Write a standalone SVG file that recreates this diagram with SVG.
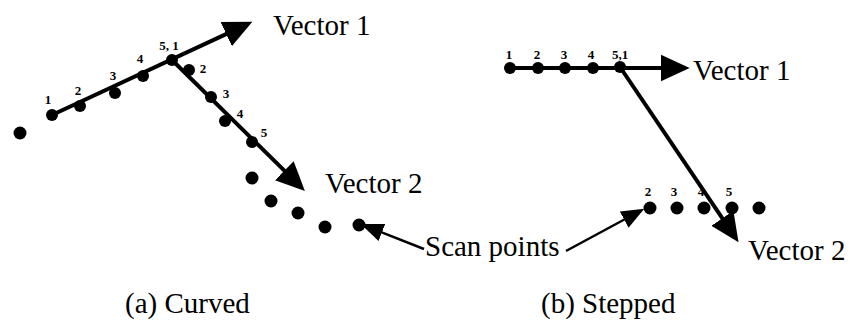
<svg xmlns="http://www.w3.org/2000/svg" width="854" height="323" viewBox="0 0 854 323">
  <style>
    .vec { stroke: #000; stroke-width: 4; fill: none; marker-end: url(#bigHead); }
    .ptr { stroke: #000; stroke-width: 2.5; fill: none; marker-end: url(#smallHead); }
    .dot { fill: #000; }
    .num { font-family: "Liberation Serif", "Times New Roman", serif; font-size: 13px; font-weight: bold; text-anchor: middle; fill: #000; }
    .lbl { font-family: "Liberation Serif", "Times New Roman", serif; font-size: 29px; fill: #000; }
    .cap { font-family: "Liberation Serif", "Times New Roman", serif; font-size: 29px; fill: #000; }
  </style>
  <defs>
    <marker id="bigHead" markerUnits="userSpaceOnUse" markerWidth="30" markerHeight="30" viewBox="0 -13 27 26" refX="2" refY="0" orient="auto">
      <path d="M0,-12 L26,0 L0,12 Z" fill="#000"/>
    </marker>
    <marker id="smallHead" markerUnits="userSpaceOnUse" markerWidth="24" markerHeight="24" viewBox="0 -9 21 18" refX="2" refY="0" orient="auto">
      <path d="M0,-8 L20,0 L0,8 Z" fill="#000"/>
    </marker>
  </defs>

  <rect width="854" height="323" fill="#fff"/>

  <!-- connectors: vectors and scan-point pointers -->
  <g id="connectors">
    <line class="vec" x1="52" y1="115" x2="228.2" y2="33.1"/>
    <line class="vec" x1="172" y1="60" x2="285.9" y2="172.2"/>
    <line class="vec" x1="510" y1="68" x2="663" y2="68"/>
    <line class="vec" x1="620" y1="67" x2="723.6" y2="220.1"/>
    <line class="ptr" x1="424" y1="249" x2="379.8" y2="231.6"/>
    <line class="ptr" x1="566" y1="251" x2="626.2" y2="218.5"/>
  </g>

  <!-- (a) curved scan -->
  <g id="curved-points">
    <circle class="dot" cx="20" cy="133" r="6.5"/>
    <circle class="dot" cx="52" cy="115" r="6"/>
    <circle class="dot" cx="80" cy="106" r="6"/>
    <circle class="dot" cx="115" cy="93" r="6"/>
    <circle class="dot" cx="143" cy="76" r="6"/>
    <circle class="dot" cx="172" cy="60" r="6"/>
    <circle class="dot" cx="189" cy="70" r="6"/>
    <circle class="dot" cx="211" cy="97" r="6"/>
    <circle class="dot" cx="225" cy="121" r="6"/>
    <circle class="dot" cx="252" cy="142" r="6"/>
    <circle class="dot" cx="252" cy="178" r="6.5"/>
    <circle class="dot" cx="271" cy="201" r="6.5"/>
    <circle class="dot" cx="298" cy="213" r="6.5"/>
    <circle class="dot" cx="325" cy="227" r="6.5"/>
    <circle class="dot" cx="359" cy="225" r="6.5"/>
  </g>
  <g id="curved-numbers">
    <text class="num" x="48" y="104">1</text>
    <text class="num" x="78" y="95">2</text>
    <text class="num" x="113" y="80">3</text>
    <text class="num" x="140" y="63">4</text>
    <text class="num" x="169" y="50">5, 1</text>
    <text class="num" x="203" y="73">2</text>
    <text class="num" x="226" y="98">3</text>
    <text class="num" x="240" y="118">4</text>
    <text class="num" x="264" y="137">5</text>
  </g>
  <g id="curved-vector1"><text class="lbl" x="273" y="35">Vector 1</text></g>
  <g id="curved-vector2"><text class="lbl" x="325" y="193">Vector 2</text></g>
  <g id="curved-caption"><text class="cap" x="125" y="313">(a) Curved</text></g>

  <!-- (b) stepped scan -->
  <g id="stepped-points">
    <circle class="dot" cx="510" cy="68" r="6"/>
    <circle class="dot" cx="538" cy="68" r="6"/>
    <circle class="dot" cx="565" cy="68" r="6"/>
    <circle class="dot" cx="593" cy="68" r="6"/>
    <circle class="dot" cx="620" cy="67" r="6"/>
    <circle class="dot" cx="650" cy="208" r="6.5"/>
    <circle class="dot" cx="677" cy="208" r="6.5"/>
    <circle class="dot" cx="704" cy="208" r="6.5"/>
    <circle class="dot" cx="732" cy="208" r="6.5"/>
    <circle class="dot" cx="759" cy="208" r="6.5"/>
  </g>
  <g id="stepped-numbers">
    <text class="num" x="509" y="59">1</text>
    <text class="num" x="537" y="59">2</text>
    <text class="num" x="564" y="59">3</text>
    <text class="num" x="591" y="59">4</text>
    <text class="num" x="620" y="59">5,1</text>
    <text class="num" x="648" y="196">2</text>
    <text class="num" x="674" y="196">3</text>
    <text class="num" x="701" y="196">4</text>
    <text class="num" x="729" y="196">5</text>
  </g>
  <g id="stepped-vector1"><text class="lbl" x="693" y="80">Vector 1</text></g>
  <g id="stepped-vector2"><text class="lbl" x="748" y="260">Vector 2</text></g>
  <g id="stepped-caption"><text class="cap" x="541" y="313">(b) Stepped</text></g>

  <g id="scan-points-label"><text class="lbl" x="425" y="256">Scan points</text></g>
</svg>
